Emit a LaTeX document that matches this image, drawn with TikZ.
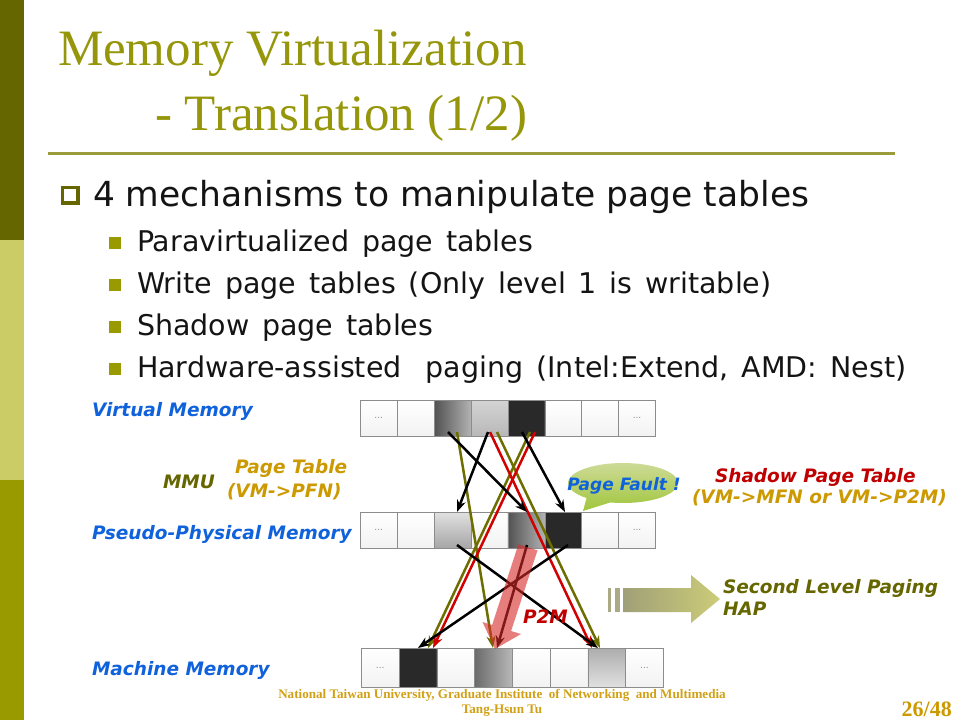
\documentclass[tikz,border=0pt]{standalone}
\usepackage{fontspec}
\setmainfont{Liberation Serif}
\newfontfamily\vfont{DejaVu Sans}
\usetikzlibrary{arrows.meta,shapes.callouts,shapes.geometric}
\newcommand{\widews}[1]{{\spaceskip=0.45em\relax #1}}
\definecolor{bardark}{RGB}{102,102,0}
\definecolor{barlight}{RGB}{204,204,102}
\definecolor{barmid}{RGB}{153,153,0}
\definecolor{titlecol}{RGB}{150,150,10}
\definecolor{rulecol}{RGB}{155,155,60}
\definecolor{lblblue}{RGB}{16,98,220}
\definecolor{goldc}{RGB}{204,153,0}
\definecolor{olivedk}{RGB}{102,102,0}
\definecolor{olivelne}{RGB}{110,110,0}
\definecolor{shred}{RGB}{192,0,0}
\definecolor{lnred}{RGB}{210,0,0}
\definecolor{footgold}{RGB}{210,160,20}
\definecolor{cellline}{RGB}{140,140,140}
\definecolor{pfl}{RGB}{205,218,150}
\definecolor{pfr}{RGB}{160,198,60}
\definecolor{hapl}{RGB}{160,160,120}
\definecolor{hapr}{RGB}{204,204,120}
\definecolor{p2mred}{RGB}{215,40,40}
\begin{document}
\begin{tikzpicture}[x=1pt,y=-1pt,
  txt/.style={inner sep=0pt,outer sep=0pt,anchor=base west},
  titlestyle/.style={txt,text=titlecol,font=\fontsize{51}{56}\selectfont},
  mainstyle/.style={txt,text=black!92,font=\vfont\fontsize{34.5}{38}\selectfont},
  substyle/.style={txt,text=black!92,font=\vfont\fontsize{28.5}{32}\selectfont},
  lbl/.style={txt,font=\vfont\bfseries\itshape\fontsize{18.5}{22}\selectfont},
  subsq/.style={fill=barmid,minimum size=12.5pt,inner sep=0pt},
  cell/.style={draw=cellline,line width=0.6pt,minimum width=36.9pt,minimum height=36pt,inner sep=0pt,anchor=north west,
     text=black!45,font=\vfont\fontsize{9}{9}\selectfont},
  cellm/.style={cell,minimum width=37.75pt,minimum height=39pt},
  cw/.style={top color=white,bottom color=black!5},
  cblk/.style={fill=black!84},
  cdg/.style={left color=black!68,right color=black!30},
  clg/.style={top color=black!17,bottom color=black!28},
  cpl/.style={top color=black!12,bottom color=black!35},
  cmg/.style={left color=black!58,right color=black!28},
  cml/.style={top color=black!32,bottom color=black!12},
  conn/.style={line width=2.5pt,-{Stealth[length=12pt,width=9pt]}},
  blk/.style={conn,draw=black},
  olv/.style={conn,draw=olivelne},
  rdl/.style={conn,draw=lnred},
  footstyle/.style={inner sep=0pt,anchor=base,text=footgold,font=\bfseries\fontsize{13.1}{15}\selectfont}
]
\useasboundingbox (0,0) rectangle (960,720);
\fill[white] (0,0) rectangle (960,720);
\fill[bardark] (0,0) rectangle (24,240);
\fill[barlight] (0,240) rectangle (24,480);
\fill[barmid] (0,480) rectangle (24,720);

% title
\node[titlestyle] (t1) at (58,65) {Memory Virtualization};
\node[titlestyle] (t2) at (155,130) {- Translation (1/2)};
\fill[rulecol] (48,151.5) rectangle (895,154.5);

% bullets
\node[draw=olivedk,line width=3.5pt,minimum size=15.5pt,inner sep=0pt,fill=white] (b0) at (70,195) {};
\node[mainstyle] (m0) at (93,206) {4 mechanisms to manipulate page tables};
\node[subsq] (s1) at (115,243) {};
\node[substyle] (x1) at (137,251) {\widews{Paravirtualized page tables}};
\node[subsq] (s2) at (115,285) {};
\node[substyle] (x2) at (137,293) {\widews{Write page tables (Only level 1 is writable)}};
\node[subsq] (s3) at (115,327) {};
\node[substyle] (x3) at (137,335) {\widews{Shadow page tables}};
\node[subsq] (s4) at (115,369) {};
\node[substyle] (x4) at (137,377) {\widews{Hardware-assisted\hspace{0.4em} paging (Intel:Extend, AMD: Nest)}};

% memory rows
\foreach \i/\st/\t in {1/cw/{...},2/cw/{},3/cdg/{},4/clg/{},5/cblk/{},6/cw/{},7/cw/{},8/cw/{...}}
  \node[cell,\st] (v\i) at ({360+(\i-1)*36.9},400) {\t};
\foreach \i/\st/\t in {1/cw/{...},2/cw/{},3/cpl/{},4/cw/{},5/cdg/{},6/cblk/{},7/cw/{},8/cw/{...}}
  \node[cell,\st] (p\i) at ({360+(\i-1)*36.9},512) {\t};
\foreach \i/\st/\t in {1/cw/{...},2/cblk/{},3/cw/{},4/cmg/{},5/cw/{},6/cw/{},7/cml/{},8/cw/{...}}
  \node[cellm,\st] (r\i) at ({361+(\i-1)*37.75},648) {\t};

% connector end points
\coordinate (b1s) at (448,432); \coordinate (b1e) at (527,512);
\coordinate (b2s) at (488,432); \coordinate (b2e) at (457,512);
\coordinate (b3s) at (522,432); \coordinate (b3e) at (565,512);
\coordinate (b4s) at (457,545); \coordinate (b4e) at (598,648);
\coordinate (b5s) at (568,545); \coordinate (b5e) at (418,648);
\coordinate (b6s) at (527,545); \coordinate (b6e) at (497,648);
\coordinate (o1s) at (457,432); \coordinate (o1e) at (493,648);
\coordinate (o2s) at (530,432); \coordinate (o2e) at (428,648);
\coordinate (o3s) at (497,432); \coordinate (o3e) at (600,648);
\coordinate (r1s) at (490,432); \coordinate (r1e) at (592,648);
\coordinate (r2s) at (535,432); \coordinate (r2e) at (433,648);

\draw[olv] (o1s) -- (o1e);
\draw[olv] (o2s) -- (o2e);
\draw[olv] (o3s) -- (o3e);
\draw[rdl] (r1s) -- (r1e);
\draw[rdl] (r2s) -- (r2e);
\draw[blk] (b1s) -- (b1e);
\draw[blk] (b2s) -- (b2e);
\draw[blk] (b3s) -- (b3e);
\draw[blk] (b4s) -- (b4e);
\draw[blk] (b5s) -- (b5e);
\draw[blk] (b6s) -- (b6e);

% P2M big arrow
\fill[p2mred,fill opacity=0.6] (537.5,550.3) -- (511.1,631.0) -- (521.0,634.0) -- (495,649)
   -- (482.5,622.0) -- (492.1,625.0) -- (518.4,544.3) -- cycle;
\node[lbl,text=shred] (p2m) at (523,623) {P2M};

% HAP arrow
\fill[hapl!90!white] (608,588) rectangle (611,612);
\fill[hapl!90!white] (614.5,588) rectangle (620,612);
\shade[left color=hapl,right color=hapr] (623,588) -- (691,588) -- (691,575) -- (720,599) -- (691,623) -- (691,612) -- (623,612) -- cycle;

% labels
\node[lbl,text=lblblue] (lv) at (92,416) {Virtual Memory};
\node[lbl,text=olivedk] (lmmu) at (163,488) {MMU};
\node[lbl,text=goldc] (lpt) at (235,473) {Page Table};
\node[lbl,text=goldc] (lpt2) at (227,497) {(VM->PFN)};
\node[lbl,text=lblblue] (lp) at (92,539) {Pseudo-Physical Memory};
\node[lbl,text=lblblue] (lm) at (92,675) {Machine Memory};
\node[lbl,text=shred] (lsh) at (715,482) {Shadow Page Table};
\node[lbl,text=goldc] (lsh2) at (692,503) {(VM->MFN or VM->P2M)};
\node[lbl,text=olivedk] (lsl) at (723,593) {Second Level Paging};
\node[lbl,text=olivedk] (lhap) at (723,615) {HAP};

% page fault callout
\node[ellipse callout,callout absolute pointer={(583,511)},callout pointer arc=28,
  minimum width=110pt,minimum height=40pt,inner sep=0pt,top color=pfl,bottom color=pfr,
  draw=none] (pf) at (623,483) {};
\node[inner sep=0pt,anchor=base,text=lblblue,font=\vfont\bfseries\itshape\fontsize{17}{20}\selectfont] (pft) at (624,490) {Page Fault !};

% footer
\node[footstyle] (f1) at (502,698) {National Taiwan University, Graduate Institute\ \ of Networking\ \ and Multimedia};
\node[footstyle] (f2) at (502,713) {Tang-Hsun Tu};
\node[inner sep=0pt,anchor=base east,text=goldc,font=\bfseries\fontsize{22}{26}\selectfont] (pg) at (952,716) {26/48};
\end{tikzpicture}
\end{document}
